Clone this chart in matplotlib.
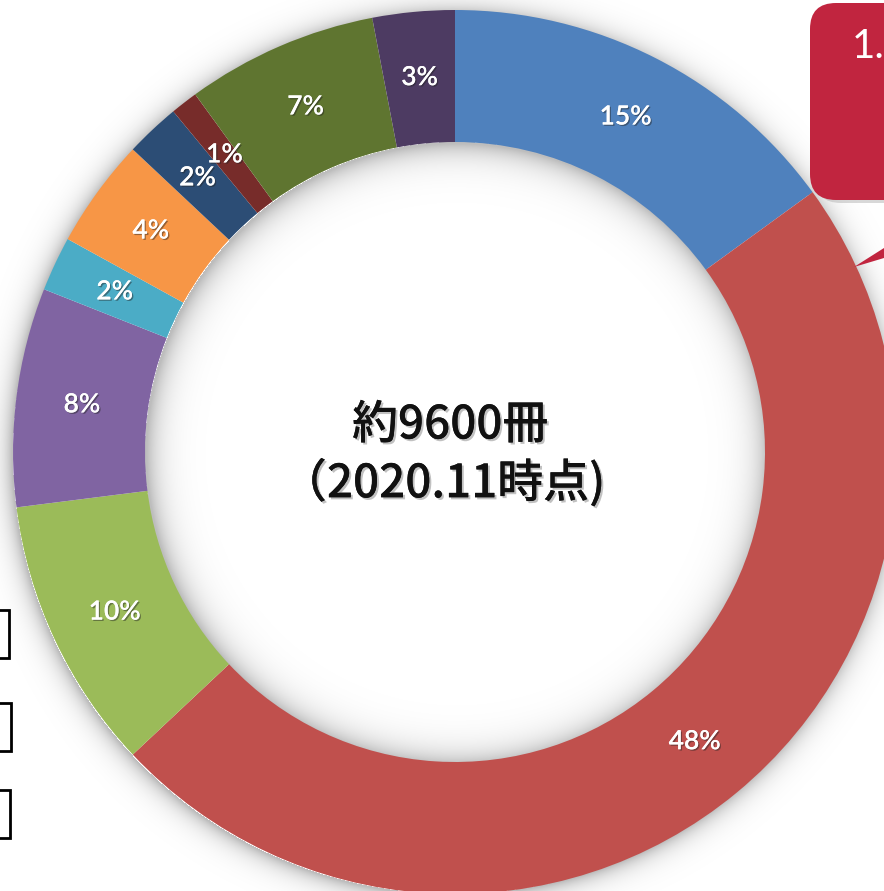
import matplotlib
matplotlib.use("Agg")
import numpy as np
import matplotlib.pyplot as plt
from matplotlib.patches import FancyBboxPatch, Polygon, Rectangle
import matplotlib.patheffects as pe

# ---- data (clockwise from 12 o'clock) ----
shares = [15, 48, 10, 8, 2, 4, 2, 1, 7, 3]
colors = ["#4F81BD", "#C0504D", "#9BBB59", "#8064A2", "#4BACC6",
          "#F79646", "#2C4D75", "#772C2A", "#5F7530", "#4D3B62"]
center_line1 = "約9600冊"
center_line2 = "（2020.11時点)"
callout_text = "1."

W, H = 884, 891
fig = plt.figure(figsize=(W / 100, H / 100), dpi=100)
ax = fig.add_axes([0, 0, 1, 1])

cx, cy = 455, H - 452
R = 442
r_in = 310
width = R - r_in

# soft shadows (outer glow + inner hole shadow) as a background image
yy, xx = np.mgrid[0:H, 0:W] + 0.5
d_out = np.hypot(xx - (cx - 2), yy - (cy - 2))
d_in = np.hypot(xx - (cx + 2), yy - (cy - 2))
alpha = np.zeros((H, W))
outer = d_out > R - 2
alpha[outer] = 0.24 * np.exp(-(d_out[outer] - R) / 10.0)
inner = d_in < r_in + 2
alpha[inner] = 0.26 * np.exp(-(r_in - d_in[inner]) / 14.0)
alpha = np.clip(alpha, 0, 0.26)
rgba = np.zeros((H, W, 4))
rgba[..., 3] = alpha
ax.imshow(rgba, extent=(0, W, 0, H), origin="lower", zorder=1, interpolation="bilinear")

wedges, texts, autotexts = ax.pie(
    shares, colors=colors, startangle=90, counterclock=False,
    center=(cx, cy), radius=R,
    wedgeprops=dict(width=width, linewidth=0),
    autopct=lambda p: f"{p:.0f}%", pctdistance=(R - width / 2) / R,
    textprops=dict(color="white", fontsize=19, family="Lato", fontweight="semibold"),
)
for w in wedges:
    w.set_zorder(2)
for t in autotexts:
    t.set_zorder(5)
    t.set_path_effects([pe.withSimplePatchShadow(offset=(1, -1), shadow_rgbFace="#222222", alpha=0.45),
                        pe.Normal()])

# centre text
ctext_fx = [pe.withSimplePatchShadow(offset=(1.5, -1.5), shadow_rgbFace="#999999", alpha=0.6), pe.Normal()]
ax.text(cx - 5, H - 425, center_line1, ha="center", va="center", fontsize=33,
        family=["Noto Sans CJK JP", "DejaVu Sans"], fontweight="medium",
        color="#111111", zorder=6, path_effects=ctext_fx)
ax.text(cx - 12, H - 483, center_line2, ha="center", va="center", fontsize=33,
        family=["Noto Sans CJK JP", "DejaVu Sans"], fontweight="medium",
        color="#111111", zorder=6, path_effects=ctext_fx)

# callout box (top right, cut off by the edge)
callout_color = "#C1253F"
ax.add_patch(FancyBboxPatch((815, H - 203), 140, 195,
                            boxstyle="round,pad=0,rounding_size=26",
                            fc="#aaaaaa", ec="none", alpha=0.45, zorder=6))
ax.add_patch(FancyBboxPatch((810, H - 200), 140, 197,
                            boxstyle="round,pad=0,rounding_size=26",
                            fc=callout_color, ec="none", zorder=7))
ax.add_patch(Polygon([(854, H - 267), (914, H - 229), (914, H - 249)],
                     closed=True, fc=callout_color, ec="none", zorder=7))
ax.text(852, H - 46, callout_text, ha="left", va="center", fontsize=29,
        family="Lato", color="white", zorder=8)

# boxes cut off at the left edge
for ytop, xr in [(610, 9), (703, 11), (790, 10)]:
    ax.add_patch(Rectangle((-20, H - ytop - 48), 20 + xr, 48, fc="white",
                           ec="black", lw=2, zorder=6))

ax.set_xlim(0, W)
ax.set_ylim(0, H)
ax.set_aspect("equal", adjustable="box")
ax.axis("off")

fig.savefig("out.png", dpi=100, facecolor="white")
